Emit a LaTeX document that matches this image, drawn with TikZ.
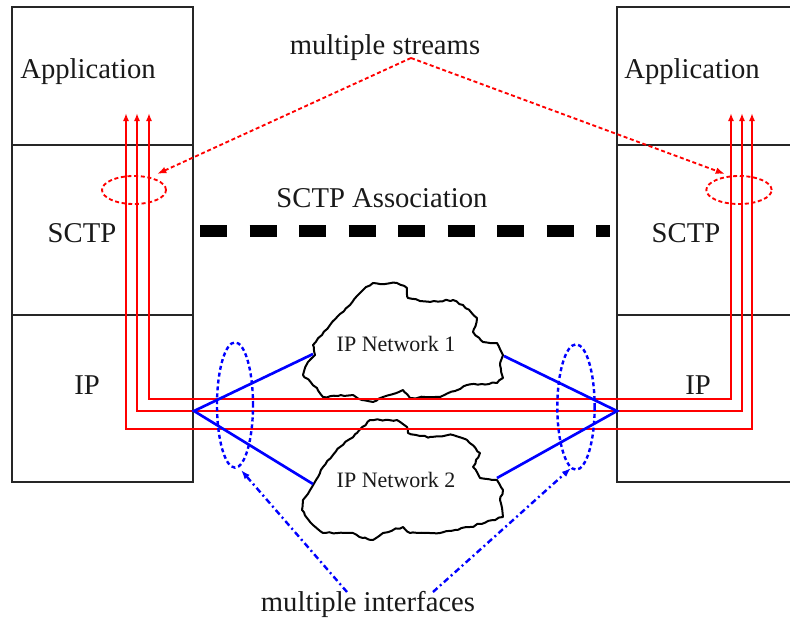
\documentclass[tikz,border=0pt]{standalone}
\usepackage{fontspec}
\setmainfont{Liberation Serif}
\usetikzlibrary{arrows.meta,decorations.pathmorphing}
\begin{document}
\begin{tikzpicture}[x=0.75pt,y=-0.75pt,
  box/.style={draw=black!85,line width=1.5pt},
  lbl/.style={font=\fontsize{21.5}{24}\selectfont,inner sep=0pt,text=black!90},
  netlbl/.style={font=\fontsize{16.5}{19}\selectfont,inner sep=0pt,text=black!90},
  stream/.style={draw=red,line width=1.4pt,{Latex[length=6pt,width=4.5pt]}-{Latex[length=6pt,width=4.5pt]}},
  cloudline/.style={draw=black,line width=1.5pt,fill=white,line join=round,
    decorate,decoration={random steps,segment length=3pt,amplitude=0.6pt}},
  iface/.style={draw=blue,line width=2pt},
  reddash/.style={draw=red,line width=1.4pt,dash pattern=on 3pt off 2pt},
  bluedash/.style={draw=blue,line width=1.8pt,dash pattern=on 3pt off 2.2pt},
  bluedot/.style={draw=blue,line width=1.8pt,dash pattern=on 4.5pt off 2.5pt on 1.5pt off 2.5pt},
  assoc/.style={draw=black,line width=9pt,dash pattern=on 20.25pt off 16.9pt}
]
\useasboundingbox (0,0) rectangle (790,625);
\clip (0,0) rectangle (790,625);
\pgfmathsetseed{7}

% protocol stacks
\draw[box] (12,7) rectangle (193,482);
\draw[box] (12,145) -- (193,145);
\draw[box] (12,315) -- (193,315);
\draw[box] (617,7) rectangle (820,482);
\draw[box] (617,145) -- (820,145);
\draw[box] (617,315) -- (820,315);

\node[lbl] (appL) at (88,72) {Application};
\node[lbl] (appR) at (692,72) {Application};
\node[lbl] (sctpL) at (82,233) {SCTP};
\node[lbl] (sctpR) at (686,233) {SCTP};
\node[lbl] (ipL) at (87,385) {IP};
\node[lbl] (ipR) at (698,385) {IP};

% clouds
\draw[cloudline] (315,355) -- (313,345) -- (322,335) -- (330,325) -- (340,314) -- (350,305) -- (363,290) -- (373,283) -- (385,284) -- (397,283) -- (407,288) -- (408,298) -- (420,301) -- (430,302) -- (453,300) -- (463,305) -- (477,318) -- (473,332) -- (483,342) -- (497,343) -- (503,355) -- (500,365) -- (503,378) -- (497,383) -- (482,384) -- (467,385) -- (455,391) -- (440,397) -- (425,397) -- (410,398) -- (403,390) -- (383,397) -- (373,402) -- (362,400) -- (353,395) -- (338,396) -- (323,397) -- (317,388) -- (303,375) -- (308,362) -- cycle;
\draw[cloudline] (370,420) -- (385,420) -- (397,420) -- (407,427) -- (408,433) -- (420,436) -- (430,437) -- (453,435) -- (467,440) -- (480,453) -- (473,467) -- (480,478) -- (497,480) -- (503,490) -- (500,500) -- (503,517) -- (493,520) -- (470,527) -- (455,530) -- (440,533) -- (425,533) -- (410,533) -- (403,527) -- (383,533) -- (373,540) -- (363,538) -- (353,533) -- (338,533) -- (323,533) -- (313,525) -- (302,510) -- (303,500) -- (312,487) -- (318,477) -- (323,467) -- (340,447) -- (357,433) -- cycle;
\node[netlbl] (net1) at (396,344) {IP Network 1};
\node[netlbl] (net2) at (396,480) {IP Network 2};
\coordinate (n1w) at (313,354);
\coordinate (n1e) at (504,356);
\coordinate (n2w) at (313,484);
\coordinate (n2e) at (497,478);

% streams
\coordinate (ls1) at (149,113); \coordinate (lc1) at (149,399);
\coordinate (rc1) at (731,399); \coordinate (rs1) at (731,113);
\coordinate (ls2) at (137,113); \coordinate (lc2) at (137,411);
\coordinate (rc2) at (742,411); \coordinate (rs2) at (742,113);
\coordinate (ls3) at (126,113); \coordinate (lc3) at (126,429);
\coordinate (rc3) at (752,429); \coordinate (rs3) at (752,113);
\draw[stream] (ls1) -- (lc1) -- (rc1) -- (rs1);
\draw[stream] (ls2) -- (lc2) -- (rc2) -- (rs2);
\draw[stream] (ls3) -- (lc3) -- (rc3) -- (rs3);

% interfaces
\coordinate (ifL) at (194,411);
\coordinate (ifR) at (617,411);
\draw[iface] (n1w) -- (ifL) -- (n2w);
\draw[iface] (n1e) -- (ifR) -- (n2e);

% SCTP association
\node[lbl] (assocl) at (382,198) {SCTP Association};
\coordinate (assocA) at (200,231);
\coordinate (assocB) at (610,231);
\draw[assoc] (assocA) -- (assocB);

% multiple streams
\draw[reddash] (134,190) ellipse [x radius=24pt,y radius=10.5pt];
\draw[reddash] (739,190) ellipse [x radius=24.5pt,y radius=10.5pt];
\node[lbl] (streams) at (385,48) {multiple streams};
\coordinate (sapex) at (411,58);
\coordinate (selL) at (157,174);
\coordinate (selR) at (725,174);
\draw[reddash,-{Latex[length=7pt,width=5pt]}] (sapex) -- (selL);
\draw[reddash,-{Latex[length=7pt,width=5pt]}] (sapex) -- (selR);

% multiple interfaces
\draw[bluedash] (235,405) ellipse [x radius=13.5pt,y radius=47pt];
\draw[bluedash] (576,407) ellipse [x radius=14pt,y radius=47pt];
\node[lbl] (ifaces) at (368,604) {multiple interfaces};
\coordinate (ibL) at (347,592);
\coordinate (ibR) at (433,592);
\coordinate (ielL) at (241,470);
\coordinate (ielR) at (571,468);
\draw[bluedot,-{Latex[length=7pt,width=5pt]}] (ibL) -- (ielL);
\draw[bluedot,-{Latex[length=7pt,width=5pt]}] (ibR) -- (ielR);
\end{tikzpicture}
\end{document}
